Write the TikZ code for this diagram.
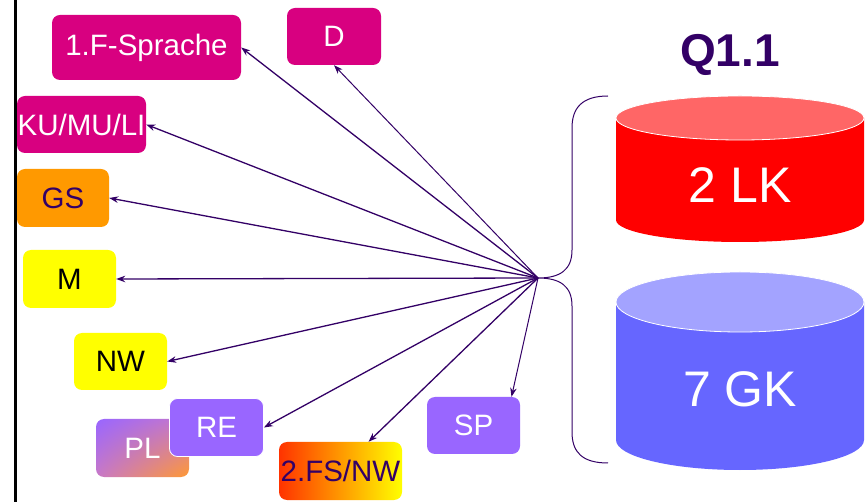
\documentclass[tikz,border=0pt]{standalone}
\usepackage{fontspec}
\setmainfont{Liberation Sans}
\usetikzlibrary{arrows.meta,shadings}
\definecolor{mag}{RGB}{216,0,128}
\definecolor{orng}{RGB}{255,153,0}
\definecolor{yel}{RGB}{255,255,0}
\definecolor{purp}{RGB}{153,102,255}
\definecolor{dpurp}{RGB}{51,0,102}
\definecolor{redtop}{RGB}{255,102,102}
\definecolor{redbody}{RGB}{255,0,0}
\definecolor{bluetop}{RGB}{163,163,255}
\definecolor{bluebody}{RGB}{102,102,255}
\definecolor{fsred}{RGB}{255,51,0}
\definecolor{fsmid}{RGB}{255,180,0}
\definecolor{plmid}{RGB}{200,120,200}
\definecolor{plor}{RGB}{255,153,51}
\tikzset{
  box/.style={rounded corners=8pt, inner sep=0pt, font=\fontsize{29.5}{29.5}\selectfont},
  wtext/.style={text=white},
  arr/.style={draw=dpurp, line width=1.3pt, -{Stealth[length=9pt,width=6.5pt]}},
  brace/.style={draw=dpurp, line width=1pt},
  big/.style={text=white, font=\fontsize{50}{50}\selectfont},
}
\begin{document}
\begin{tikzpicture}[x=1pt,y=1pt,yscale=-1]
\useasboundingbox (0,0) rectangle (865,502);
\fill[white] (0,0) rectangle (865,502);
\draw[line width=3pt, black] (15,0) -- (15,502);
% boxes
\node[box, wtext, fill=mag, minimum width=189pt, minimum height=65pt] (n1f) at (146.5,47.5) {1.F-Sprache};
\node[box, wtext, fill=mag, minimum width=94pt, minimum height=57pt] (nd) at (334,36.5) {D};
\node[box, wtext, fill=mag, minimum width=129pt, minimum height=57pt] (nku) at (81.5,124.5) {KU/MU/LI};
\node[box, text=dpurp, fill=orng, minimum width=92pt, minimum height=58pt] (ngs) at (63,198) {GS};
\node[box, text=black, fill=yel, minimum width=93pt, minimum height=58pt] (nm) at (69.5,279) {M};
\node[box, text=black, fill=yel, minimum width=93pt, minimum height=57pt] (nnw) at (120.5,361.5) {NW};
\node[box, wtext, upper left=purp, upper right=plmid, lower left=plmid, lower right=plor, minimum width=93pt, minimum height=58pt] (npl) at (142.5,448) {PL};
\node[box, wtext, fill=purp, draw=white, line width=0.8pt, minimum width=94pt, minimum height=58pt] (nre) at (216.5,427.5) {RE};
\node[box, text=dpurp, left color=fsred, middle color=fsmid, right color=yel, minimum width=123pt, minimum height=58pt] (nfs) at (340.5,471) {2.FS/NW};
\node[box, wtext, fill=purp, minimum width=93pt, minimum height=57pt] (nsp) at (473.5,425.5) {SP};
% hub
\coordinate (hub) at (538,278);
\draw[arr] (hub) -- (n1f.east);
\draw[arr, line width=1pt] (hub) -- (nd.south);
\draw[arr] (hub) -- (nku.east);
\draw[arr] (hub) -- (ngs.east);
\draw[arr] (hub) -- (nm.east);
\draw[arr] (hub) -- (nnw.east);
\draw[arr] (hub) -- (nre.east);
\draw[arr] (hub) -- ([xshift=28pt]nfs.north);
\draw[arr, line width=1pt] (hub) -- ([xshift=38pt]nsp.north);
% brace
\draw[brace] (608,96) .. controls (582,96) and (572,108) .. (572,128) -- (572,250) .. controls (572,270) and (560,278) .. (hub) .. controls (560,278) and (572,286) .. (572,306) -- (572,432) .. controls (572,452) and (582,463) .. (608,463);
% red cylinder
\fill[redbody] (616,118) -- (616,220) arc[start angle=180, end angle=0, x radius=124, y radius=22] -- (864,118) -- cycle;
\draw[fill=redtop, draw=white, line width=0.8pt] (740,118) ellipse[x radius=124, y radius=22];
\node[big] (lk) at (740,185) {2 LK};
% blue cylinder
\fill[bluebody] (616,302) -- (616,440) arc[start angle=180, end angle=0, x radius=124, y radius=30] -- (864,302) -- cycle;
\draw[fill=bluetop, draw=white, line width=0.8pt] (740,302) ellipse[x radius=124, y radius=30];
\node[big] (gk) at (740,389) {7 GK};
% title
\node[text=dpurp, font=\bfseries\fontsize{46}{46}\selectfont] (q) at (730,55) {Q1.1};
\end{tikzpicture}
\end{document}
